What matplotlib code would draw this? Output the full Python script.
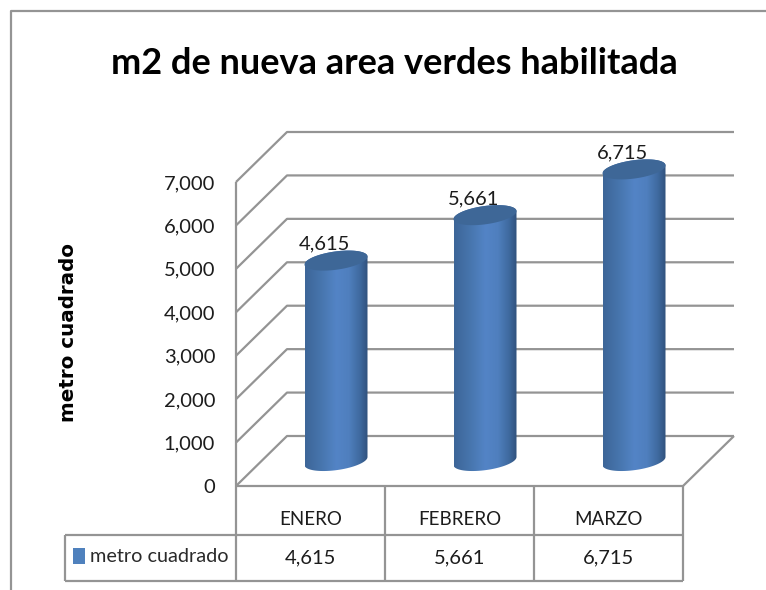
"""m2 de nueva area verde: fake 3D cylinder chart with data table."""
import matplotlib
matplotlib.use("Agg")
import matplotlib.pyplot as plt
import numpy as np
from matplotlib.colors import LinearSegmentedColormap
from matplotlib.lines import Line2D
from matplotlib.patches import Polygon, Rectangle
from matplotlib.ticker import StrMethodFormatter

TITLE = "m2 de nueva area verdes habilitada"
SERIES = "metro cuadrado"
MONTHS = ["ENERO", "FEBRERO", "MARZO"]
VALUES = [4615, 5661, 6715]
Y_TICKS = [0, 1000, 2000, 3000, 4000, 5000, 6000, 7000]

W, H = 766, 590
GRID = "#949494"
BLUE = "#4f81bd"
INK = "#1c1c1c"

plt.rcParams["font.family"] = ["Lato", "DejaVu Sans"]
fig = plt.figure(figsize=(W / 100, H / 100), dpi=100)

# front plane of the plot, in pixels
LEFT, RIGHT, Y0, Y7 = 236, 683, 486, 182
ax = fig.add_axes([LEFT / W, 1 - Y0 / H, (RIGHT - LEFT) / W, (Y0 - Y7) / H])
ax.set_xlim(0, 3)
ax.set_ylim(0, 7000)
ax.patch.set_alpha(0)
for s in ax.spines.values():
    s.set_visible(False)

px_x = 3 / (RIGHT - LEFT)
px_y = 7000 / (Y0 - Y7)
DX, DY = 51 * px_x, 50 * px_y   # depth of the box


def line(xs, ys, **kw):
    ax.plot(xs, ys, color=GRID, lw=1.6, clip_on=False, solid_capstyle="butt", **kw)


# walls
for v in Y_TICKS:
    line([0, DX, 3 + DX], [v, v + DY, v + DY], zorder=1)
line([0, 0], [0, 7000], zorder=1)
line([0, 3, 3 + DX], [0, 0, DY], zorder=1)

ax.set_xticks([])
ax.set_yticks(Y_TICKS)
ax.yaxis.set_major_formatter(StrMethodFormatter("{x:,.0f}"))
ax.tick_params(axis="y", length=0, pad=15, labelsize=14.5, labelcolor=INK)


# cylinders
def ellipse(cx, cy, t):
    rx, ry, slope = 31.5, 9.2, 4 / 31.5
    xs = cx + rx * np.cos(t) * px_x
    ys = cy + (ry * np.sin(t) + rx * np.cos(t) * slope) * px_y
    return xs, ys


body = LinearSegmentedColormap.from_list(
    "body", [(0, "#3d6698"), (0.25, "#4775ad"), (0.5, "#5384c6"), (0.7, "#4f7fbe"),
             (0.88, "#3f6a9f"), (1, "#30527e")])
grad = np.linspace(0, 1, 64)[None, :]

for i, val in enumerate(VALUES):
    cx = i + 0.5 + DX / 2
    base = DY / 2
    top = val + DY / 2
    bx, by = ellipse(cx, base, np.linspace(np.pi, 2 * np.pi, 40))
    ux, uy = ellipse(cx, top, np.linspace(0, np.pi, 40))
    verts = np.column_stack([np.r_[bx, ux], np.r_[by, uy]])
    clip = Polygon(verts, closed=True, transform=ax.transData)
    hw = 31.5 * px_x
    im = ax.imshow(grad, cmap=body, extent=(cx - hw, cx + hw, 0, top + 20 * px_y),
                   aspect="auto", interpolation="bilinear", zorder=2, vmin=0, vmax=1)
    im.set_clip_box(fig.bbox)
    im.set_clip_path(clip)
    ex, ey = ellipse(cx, top, np.linspace(0, 2 * np.pi, 80))
    ax.fill(ex, ey, color="#3e6797", lw=0, zorder=3, clip_on=False)
    ax.annotate(f"{val:,}", (cx, top), xytext=(-8.5, 12), textcoords="offset points",
                ha="center", va="center", fontsize=14.5, color=INK, zorder=2.5,
                annotation_clip=False)
ax.set_xlim(0, 3)
ax.set_ylim(0, 7000)

# data table, y values are pixels below the floor line
ROW1, ROW2 = 49 * px_y, 95 * px_y
TBL_LEFT = (65 - LEFT) * px_x
line([TBL_LEFT, 3], [-ROW1, -ROW1])
line([TBL_LEFT, 3], [-ROW2, -ROW2])
line([TBL_LEFT, TBL_LEFT], [-ROW1, -ROW2])
for x in range(4):
    line([x, x], [0, -ROW2])
for i, (month, val) in enumerate(zip(MONTHS, VALUES)):
    ax.text(i + 0.5, -ROW1 * 0.68, month, ha="center", va="center", fontsize=13.5,
            color=INK, clip_on=False)
    ax.text(i + 0.5, -(ROW1 + ROW2) / 2, f"{val:,}", ha="center", va="center",
            fontsize=14.5, color=INK, clip_on=False)
ax.add_patch(Rectangle(((73 - LEFT) * px_x, -(564 - Y0) * px_y), 12 * px_x, 16 * px_y,
                       color=BLUE, lw=0, clip_on=False))
ax.text((90 - LEFT) * px_x, -(556 - Y0) * px_y, SERIES, ha="left", va="center",
        fontsize=14.3, color="#2a2a2a", clip_on=False)

fig.text(394 / W, 1 - 64 / H, TITLE, ha="center", va="center", fontsize=26,
         fontweight="bold", color="#000000")
fig.text(69 / W, 1 - 332 / H, SERIES, rotation=90, ha="center", va="center",
         fontsize=14.3, fontweight="bold", color="#000000", family="DejaVu Sans")

# outer chart frame
fig.add_artist(Line2D([11 / W, 11 / W, 1], [0, 1 - 11 / H, 1 - 11 / H], color=GRID, lw=1.6))

fig.savefig("out.png", dpi=100)
